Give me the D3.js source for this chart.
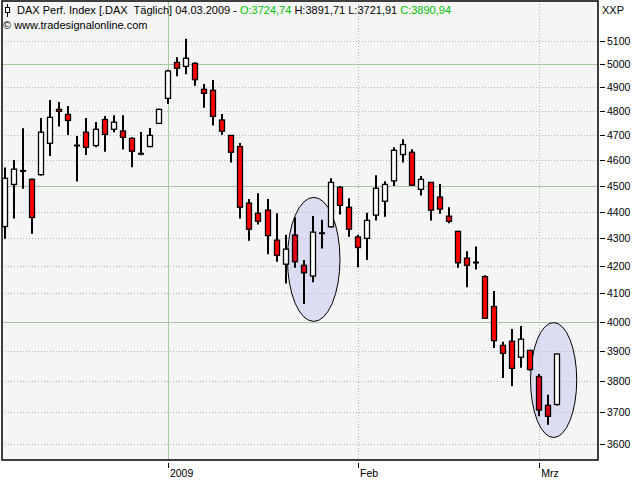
<!DOCTYPE html>
<html><head><meta charset="utf-8">
<script src="https://cdn.jsdelivr.net/npm/d3@7"></script>
<style>html,body{margin:0;padding:0;background:#fff;}svg{display:block;}text{white-space:pre;}</style>
</head><body>
<svg id="c" width="640" height="480"></svg>
<script>
// ---- data ----
const dates = [
 "2008-12-02","2008-12-03","2008-12-04","2008-12-05","2008-12-08","2008-12-09","2008-12-10","2008-12-11","2008-12-12",
 "2008-12-15","2008-12-16","2008-12-17","2008-12-18","2008-12-19","2008-12-22","2008-12-23","2008-12-29","2008-12-30",
 "2009-01-02","2009-01-05","2009-01-06","2009-01-07","2009-01-08","2009-01-09","2009-01-12","2009-01-13","2009-01-14",
 "2009-01-15","2009-01-16","2009-01-19","2009-01-20","2009-01-21","2009-01-22","2009-01-23","2009-01-26","2009-01-27",
 "2009-01-28","2009-01-29","2009-01-30","2009-02-02","2009-02-03","2009-02-04","2009-02-05","2009-02-06","2009-02-09",
 "2009-02-10","2009-02-11","2009-02-12","2009-02-13","2009-02-16","2009-02-17","2009-02-18","2009-02-19","2009-02-20",
 "2009-02-23","2009-02-24","2009-02-25","2009-02-26","2009-02-27","2009-03-02","2009-03-03","2009-03-04"];
const opens  = [4344,4505,4558,4525,4543,4668,4807,4786,4659,4713,4659,4765,4725,4718,4688,4626,4655,4749,
 4853,5006,4989,5002,4891,4887,4763,4700,4655,4433,4394,4406,4293,4205,4312,4201,4162,4319,4343,4494,4417,
 4305,4300,4387,4440,4519,4623,4632,4486,4513,4456,4383,4326,4227,4211,4160,4054,3920,3934,3880,3903,3816,3722,3724.74];
const highs  = [4571,4601,4729,4528,4771,4846,4838,4821,4698,4771,4755,4779,4783,4783,4693,4714,4730,4810,
 4974,5028,5109,5006,4914,4931,4788,4700,4669,4449,4471,4449,4394,4313,4379,4220,4384,4370,4529,4499,4452,
 4313,4396,4541,4517,4652,4684,4644,4538,4513,4507,4417,4326,4252,4270,4165,4109,3932,3976,3986,3905,3824,3756,3891.71];
const lows   = [4298,4374,4488,4317,4540,4617,4736,4702,4516,4621,4652,4634,4713,4643,4572,4620,4652,4747,
 4829,4947,4955,4906,4814,4740,4703,4591,4374,4291,4352,4241,4214,4135,4192,4063,4140,4262,4340,4389,4306,
 4194,4220,4367,4381,4499,4591,4500,4462,4367,4392,4356,4192,4122,4186,4013,3911,3811,3784,3845,3835,3687,3660,3721.91];
const closes = [4529,4565,4558,4378,4713,4774,4799,4761,4659,4652,4725,4704,4754,4692,4636,4626,4700,4807,
 4969,4981,5024,4932,4874,4778,4717,4632,4417,4334,4364,4310,4237,4260,4214,4174,4323,4319,4513,4424,4334,
 4266,4367,4490,4505,4640,4663,4502,4525,4406,4410,4364,4210,4201,4211,4013,3936,3893,3843,3941,3839,3707,3687,3890.94];
const yTicks = [3600,3700,3800,3900,4000,4100,4200,4300,4400,4500,4600,4700,4800,4900,5000,5100];
const yMajor = [4000,4500,5000];
const xTickDates = ["2009-01-02","2009-02-02","2009-03-02"];
const xTickLabels = ["2009","Feb","Mrz"];
const xMajor = ["2009-01-02"];
// highlighted regions: [start index, end index, low price, high price]
const ellipseIdx0 = [31.2, 58.05];
const ellipseIdx1 = [37.0, 63.15];
const ellipseLo = [4002, 3620];
const ellipseHi = [4455, 3998];
const headerLabel = "DAX Perf. Index [.DAX  Täglich] 04.03.2009 - ";
const lastBar = {O:"3724,74", H:"3891,71", L:"3721,91", C:"3890,94"};

// ---- layout ----
const L = 2, R = 598, T = 1, B = 460;
const svg = d3.select("#c");
const font = "'Liberation Sans', Arial, sans-serif";
const x = d3.scaleLinear().domain([-0.33, 65.5]).range([L, R]);
const y = d3.scaleLog().domain([3550.3, 5278.9]).range([B, T]);

svg.append("rect").attr("width",640).attr("height",480).attr("fill","#fff");
svg.append("rect").attr("x",L).attr("y",T).attr("width",R-L).attr("height",B-T).attr("fill","#f5f5f5");

const green = "#a8c8a2";
// horizontal grid
svg.append("g").selectAll("line").data(yTicks).join("line")
  .attr("x1",L).attr("x2",R)
  .attr("y1",d=>Math.round(y(d))+0.5).attr("y2",d=>Math.round(y(d))+0.5)
  .attr("stroke",d=>yMajor.includes(d)?green:"#b4b4b4")
  .attr("stroke-dasharray",d=>yMajor.includes(d)?null:"1,2");
// vertical grid
svg.append("g").selectAll("line").data(xTickDates).join("line")
  .attr("x1",d=>Math.round(x(dates.indexOf(d)))+0.5).attr("x2",d=>Math.round(x(dates.indexOf(d)))+0.5)
  .attr("y1",T).attr("y2",B)
  .attr("stroke",d=>xMajor.includes(d)?green:"#b4b4b4")
  .attr("stroke-dasharray",d=>xMajor.includes(d)?null:"1,2");

// ellipses
const ell = ellipseIdx0.map((d,i)=>({
  cx:(x(ellipseIdx0[i])+x(ellipseIdx1[i]))/2, cy:(y(ellipseLo[i])+y(ellipseHi[i]))/2,
  rx:(x(ellipseIdx1[i])-x(ellipseIdx0[i]))/2, ry:(y(ellipseLo[i])-y(ellipseHi[i]))/2}));
svg.append("g").selectAll("ellipse").data(ell).join("ellipse")
  .attr("cx",e=>e.cx).attr("cy",e=>e.cy).attr("rx",e=>e.rx).attr("ry",e=>e.ry)
  .attr("fill","rgb(195,195,239)").attr("fill-opacity",0.5).attr("stroke","#000").attr("stroke-width",1);
const inEll = (px,py)=>ell.some(e=>((px-e.cx)/e.rx)**2+((py-e.cy)/e.ry)**2<1);

// candles
const bars = dates.map((d,i)=>({i, o:opens[i], h:highs[i], l:lows[i], c:closes[i]}));
const g = svg.append("g");
bars.forEach(b=>{
  const cx = Math.round(x(b.i));
  g.append("line").attr("x1",cx).attr("x2",cx).attr("y1",y(b.h)).attr("y2",y(b.l))
    .attr("stroke","#000").attr("stroke-width",2);
  if (b.o === b.c) {
    g.append("line").attr("x1",cx-3).attr("x2",cx+3).attr("y1",y(b.o)).attr("y2",y(b.o))
      .attr("stroke","#000").attr("stroke-width",2);
  } else {
    const top = y(Math.max(b.o,b.c)), bot = y(Math.min(b.o,b.c));
    const red = inEll(cx,(top+bot)/2) ? "#e0001c" : "#ff0000";
    g.append("rect").attr("x",cx-2.5).attr("width",5)
      .attr("y",top).attr("height",Math.max(1,bot-top))
      .attr("fill",b.c>b.o?"#fff":red).attr("stroke","#000").attr("stroke-width",1.3);
  }
});

// border
svg.append("rect").attr("x",L).attr("y",T).attr("width",R-L).attr("height",B-T)
  .attr("fill","none").attr("stroke","#000").attr("stroke-width",1.5);

// y axis
const ya = svg.append("g");
ya.selectAll("line").data(yTicks).join("line")
  .attr("x1",600).attr("x2",605).attr("y1",d=>Math.round(y(d))+0.5).attr("y2",d=>Math.round(y(d))+0.5)
  .attr("stroke","#000");
ya.selectAll("text").data(yTicks).join("text")
  .attr("x",607).attr("y",d=>y(d)+4).attr("font-family",font).attr("font-size","10.5px")
  .attr("fill","#000").text(d=>d);

// x axis
const xa = svg.append("g");
xa.selectAll("line").data(xTickDates).join("line")
  .attr("x1",d=>Math.round(x(dates.indexOf(d)))+0.5).attr("x2",d=>Math.round(x(dates.indexOf(d)))+0.5)
  .attr("y1",463).attr("y2",468).attr("stroke","#000");
xa.selectAll("text").data(xTickDates).join("text")
  .attr("x",d=>x(dates.indexOf(d))+2).attr("y",477).attr("font-family",font).attr("font-size","10.5px")
  .attr("fill","#000").text((d,i)=>xTickLabels[i]);

// header
const ic = svg.append("g");
ic.append("line").attr("x1",7.5).attr("x2",7.5).attr("y1",4).attr("y2",17).attr("stroke","#000");
ic.append("rect").attr("x",5.5).attr("y",7.5).attr("width",4).attr("height",5).attr("fill","#fff").attr("stroke","#000");
const ht = svg.append("text").attr("x",17).attr("y",14).attr("font-family",font).attr("font-size","11px").attr("fill","#000");
ht.append("tspan").text(headerLabel);
ht.append("tspan").attr("fill","#00c000").text("O:"+lastBar.O);
ht.append("tspan").text(" H:"+lastBar.H+" L:"+lastBar.L+" ");
ht.append("tspan").attr("fill","#00c000").text("C:"+lastBar.C);
svg.append("text").attr("x",3).attr("y",29).attr("font-family",font).attr("font-size","11px")
  .attr("fill","#000").text("© www.tradesignalonline.com");
svg.append("text").attr("x",602).attr("y",14).attr("font-family",font).attr("font-size","11px")
  .attr("fill","#000").text("XXP");
</script>
</body></html>
